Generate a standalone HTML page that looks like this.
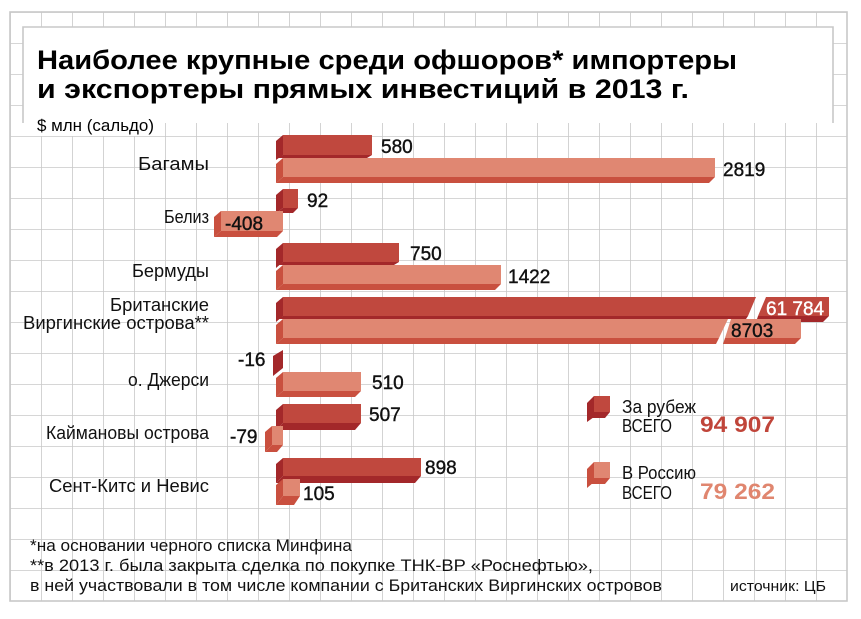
<!DOCTYPE html>
<html><head><meta charset="utf-8"><style>
html,body{margin:0;padding:0;background:#fff;}
svg{display:block;font-family:"Liberation Sans","Noto Sans CJK SC",sans-serif;}
</style></head><body>
<svg width="861" height="619" viewBox="0 0 861 619" xmlns="http://www.w3.org/2000/svg">
<defs>
<pattern id="g" x="10" y="12" width="31" height="31" patternUnits="userSpaceOnUse">
<path d="M0 0H31M0 0V31" stroke="#c8c8c8" stroke-width="1.6" fill="none"/>
</pattern>
</defs>
<rect x="10" y="12" width="837" height="589" fill="url(#g)"/>
<rect x="10" y="12" width="837" height="589" fill="none" stroke="#c8c8c8" stroke-width="1.6"/>
<rect x="23" y="27" width="810" height="96" fill="#fff"/>
<path d="M23 123V27H833V123" fill="none" stroke="#c8c8c8" stroke-width="1.6"/>
<text x="37" y="69" font-size="27" font-weight="bold" textLength="700" lengthAdjust="spacingAndGlyphs">Наиболее крупные среди офшоров* импортеры</text>
<text x="37" y="98" font-size="27" font-weight="bold" textLength="652" lengthAdjust="spacingAndGlyphs">и экспортеры прямых инвестиций в 2013 г.</text>
<rect x="34" y="114" width="120" height="22" fill="#fff"/>
<text x="37" y="131" font-size="17" textLength="117" lengthAdjust="spacingAndGlyphs">$ млн (сальдо)</text>

<g font-size="18" text-anchor="end" fill="#111">
<text x="209" y="170" textLength="71" lengthAdjust="spacingAndGlyphs">Багамы</text>
<text x="209" y="223" textLength="45" lengthAdjust="spacingAndGlyphs">Белиз</text>
<text x="209" y="277" textLength="77" lengthAdjust="spacingAndGlyphs">Бермуды</text>
<text x="209" y="311" textLength="99" lengthAdjust="spacingAndGlyphs">Британские</text>
<text x="209" y="329" textLength="186" lengthAdjust="spacingAndGlyphs">Виргинские острова**</text>
<text x="209" y="386" textLength="81" lengthAdjust="spacingAndGlyphs">о. Джерси</text>
<text x="209" y="439" textLength="163" lengthAdjust="spacingAndGlyphs">Каймановы острова</text>
<text x="209" y="492" textLength="160" lengthAdjust="spacingAndGlyphs">Сент-Китс и Невис</text>
</g>

<g>
<path d="M276 141L283 135V155L276 160Z" fill="#a3282a"/><rect x="283" y="135" width="89" height="20" fill="#c0483e"/><path d="M283 155H372L367 158H276Z" fill="#a3282a"/>
<path d="M276 164L283 158V177L276 183Z" fill="#c9503f"/><rect x="283" y="158" width="432" height="19" fill="#e08772"/><path d="M283 177H715L709 183H276Z" fill="#c9503f"/>
<path d="M276 195L283 189V208L276 213Z" fill="#a3282a"/><rect x="283" y="189" width="15" height="19" fill="#c0483e"/><path d="M283 208H298L293 213H276Z" fill="#a3282a"/>
<path d="M214 217L221 211V231L214 237Z" fill="#c9503f"/><rect x="221" y="211" width="62" height="20" fill="#e08772"/><path d="M221 231H283L277 237H214Z" fill="#c9503f"/>
<path d="M276 249L283 243V262L276 268Z" fill="#a3282a"/><rect x="283" y="243" width="116" height="19" fill="#c0483e"/><path d="M283 262H399L394 265H276Z" fill="#a3282a"/>
<path d="M276 271L283 265V284L276 290Z" fill="#c9503f"/><rect x="283" y="265" width="218" height="19" fill="#e08772"/><path d="M283 284H501L495 290H276Z" fill="#c9503f"/>
<path d="M276 303L283 297V316L276 322Z" fill="#a3282a"/><path d="M283 297H756L748 316H283Z" fill="#c0483e"/><path d="M283 316H748L746 319H276Z" fill="#a3282a"/>
<path d="M766 297H829V316H758Z" fill="#c0483e"/><path d="M758 316H829L823 322H756Z" fill="#a3282a"/>
<path d="M276 325L283 319V338L276 344Z" fill="#c9503f"/><path d="M283 319H728L719 338H283Z" fill="#e08772"/><path d="M283 338H719L716 344H276Z" fill="#c9503f"/>
<path d="M731 319H801V338H725Z" fill="#e08772"/><path d="M725 338H801L795 344H723Z" fill="#c9503f"/>
<path d="M273 356L283 350V368L273 376Z" fill="#a3282a"/>
<path d="M276 378L283 372V391L276 397Z" fill="#c9503f"/><rect x="283" y="372" width="78" height="19" fill="#e08772"/><path d="M283 391H361L355 397H276Z" fill="#c9503f"/>
<path d="M276 410L283 404V423L276 430Z" fill="#a3282a"/><rect x="283" y="404" width="78" height="19" fill="#c0483e"/><path d="M283 423H361L355 430H276Z" fill="#a3282a"/>
<path d="M265 432L272 426V445L265 452Z" fill="#c9503f"/><rect x="272" y="426" width="11" height="19" fill="#e08772"/><path d="M272 445H283L277 452H265Z" fill="#c9503f"/>
<path d="M276 464L283 458V476L276 483Z" fill="#a3282a"/><rect x="283" y="458" width="138" height="18" fill="#c0483e"/><path d="M283 476H421L415 483H276Z" fill="#a3282a"/>
<path d="M276 485L283 479V496L276 505Z" fill="#c9503f"/><rect x="283" y="479" width="17" height="17" fill="#e08772"/><path d="M283 496H300L294 505H276Z" fill="#c9503f"/>
</g>

<g font-size="19" fill="#111" stroke="#111" stroke-width="0.4">
<text x="381" y="153">580</text>
<text x="723" y="176">2819</text>
<text x="307" y="207">92</text>
<text x="225" y="230">-408</text>
<text x="410" y="260">750</text>
<text x="508" y="283">1422</text>
<text x="766" y="315" fill="#fff" stroke="#fff">61 784</text>
<text x="731" y="337">8703</text>
<text x="238" y="366">-16</text>
<text x="372" y="389">510</text>
<text x="369" y="421">507</text>
<text x="230" y="443">-79</text>
<text x="425" y="474">898</text>
<text x="303" y="500">105</text>
</g>

<path d="M587 403L594 396V417L587 422Z" fill="#a3282a"/><rect x="594" y="396" width="16" height="16" fill="#c0483e"/><path d="M594 412H610L605 418H587Z" fill="#a3282a"/>
<path d="M587 469L594 462V482L587 488Z" fill="#c9503f"/><rect x="594" y="462" width="16" height="16" fill="#e08772"/><path d="M594 478H610L605 484H587Z" fill="#c9503f"/>
<g font-size="18" fill="#111">
<text x="622" y="413" textLength="74" lengthAdjust="spacingAndGlyphs">За рубеж</text>
<text x="622" y="432" textLength="50" lengthAdjust="spacingAndGlyphs">ВСЕГО</text>
<text x="622" y="479" textLength="74" lengthAdjust="spacingAndGlyphs">В Россию</text>
<text x="622" y="499" textLength="50" lengthAdjust="spacingAndGlyphs">ВСЕГО</text>
</g>
<text x="700" y="432" font-size="22" font-weight="bold" fill="#c0453a" textLength="75" lengthAdjust="spacingAndGlyphs">94 907</text>
<text x="700" y="499" font-size="22" font-weight="bold" fill="#e0866f" textLength="75" lengthAdjust="spacingAndGlyphs">79 262</text>

<g font-size="17" fill="#111">
<text x="30" y="551" textLength="322" lengthAdjust="spacingAndGlyphs">*на основании черного списка Минфина</text>
<text x="30" y="571" textLength="563" lengthAdjust="spacingAndGlyphs">**в 2013 г. была закрыта сделка по покупке ТНК-ВР «Роснефтью»,</text>
<text x="30" y="591" textLength="632" lengthAdjust="spacingAndGlyphs">в ней участвовали в том числе компании с Британских Виргинских островов</text>
<text x="730" y="591" font-size="15" textLength="96" lengthAdjust="spacingAndGlyphs">источник: ЦБ</text>
</g>
</svg>
</body></html>
